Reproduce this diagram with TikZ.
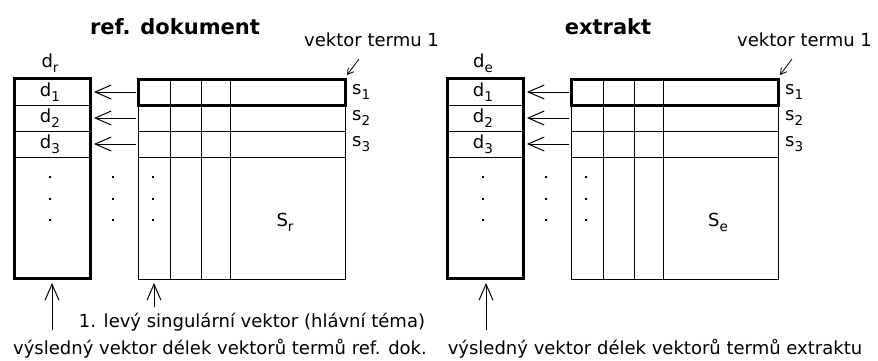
\documentclass[tikz,border=0pt]{standalone}
\usepackage{fontspec}
\setmainfont{DejaVu Sans}
\usetikzlibrary{arrows.meta}

% lowered subscript in text font
\newcommand\lowsub[1]{\raisebox{-0.5ex}{\fontsize{13.5}{13.5}\selectfont #1}}

\tikzset{
  txt/.style={inner sep=0pt, font=\fontsize{18}{18}\selectfont},
  ttl/.style={inner sep=0pt, font=\fontsize{21}{21}\selectfont\bfseries},
  thinln/.style={line width=1pt},
  thickln/.style={line width=3pt},
  arr/.style={line width=1pt, -{Straight Barb[length=16pt,width=14pt,line width=1pt]}},
  smallarr/.style={line width=0.8pt, -{Straight Barb[length=6pt,width=7pt,line width=0.8pt]}},
  dot/.style={fill=black, inner sep=0pt, minimum size=2.8pt, shape=rectangle},
  % one panel: length vector, matrix with highlighted first row, arrows between them
  pics/panel/.style args={#1/#2/#3}{code={
    \node[ttl] (-title) at (175,27) {#1};
    \node[txt] (-dname) at (50,63) {d\lowsub{#2}};
    % length vector column
    \foreach \y in {105,131,157} \draw[thinln] (14,\y) -- (90,\y);
    \draw[thickln] (14,78) rectangle (90,278);
    \node[txt] (-d1) at (50,92) {d\lowsub{1}};
    \node[txt] (-d2) at (50,118) {d\lowsub{2}};
    \node[txt] (-d3) at (50,144) {d\lowsub{3}};
    % matrix
    \foreach \y in {105,131,157} \draw[thinln] (138,\y) -- (345,\y);
    \foreach \x in {170,201,230} \draw[thinln] (\x,79) -- (\x,279);
    \draw[thinln] (138,79) rectangle (345,279);
    \draw[thickln] (138,79.5) rectangle (345,105);
    \node[txt] (-S) at (285,222) {S\lowsub{#3}};
    \node[txt, anchor=west] (-s1) at (352,92) {s\lowsub{1}};
    \node[txt, anchor=west] (-s2) at (352,118) {s\lowsub{2}};
    \node[txt, anchor=west] (-s3) at (352,144) {s\lowsub{3}};
    % dots
    \foreach \x in {50,113,153} \foreach \y in {177,199,220}
      \node[dot] at (\x,\y) {};
    % row arrows
    \foreach \i/\y in {1/92,2/118,3/144} {
      \coordinate (-m\i) at (136,\y);
      \coordinate (-t\i) at (94,\y);
      \draw[arr] (-m\i) -- (-t\i);
    }
    % term vector label
    \node[txt, anchor=west] (-vt) at (304,40) {vektor termu 1};
    \coordinate (-vtfrom) at (359,59);
    \coordinate (-corner) at (347,75);
    \draw[smallarr] (-vtfrom) -- (-corner);
  }}
}

\begin{document}
\begin{tikzpicture}[x=1pt,y=-1pt]
  \useasboundingbox (0,0) rectangle (878,360);
  \pic (L) at (0,0) {panel={ref. dokument/r/r}};
  \pic (R) at (433,0) {panel={extrakt/e/e}};

  % bottom annotations, left panel
  \node[txt] (lsv) at (252,322) {1. levý singulární vektor (hlávní téma)};
  \node[txt] (resL) at (220,349) {výsledný vektor délek vektorů termů ref. dok.};
  \coordinate (lsvA) at (154,307);
  \coordinate (lsvB) at (154,283);
  \draw[arr] (lsvA) -- (lsvB);
  \coordinate (resLA) at (52,330);
  \coordinate (resLB) at (52,283);
  \draw[arr] (resLA) -- (resLB);

  % bottom annotation, right panel
  \node[txt] (resR) at (655,349) {výsledný vektor délek vektorů termů extraktu};
  \coordinate (resRA) at (486,330);
  \coordinate (resRB) at (486,283);
  \draw[arr] (resRA) -- (resRB);
\end{tikzpicture}
\end{document}
